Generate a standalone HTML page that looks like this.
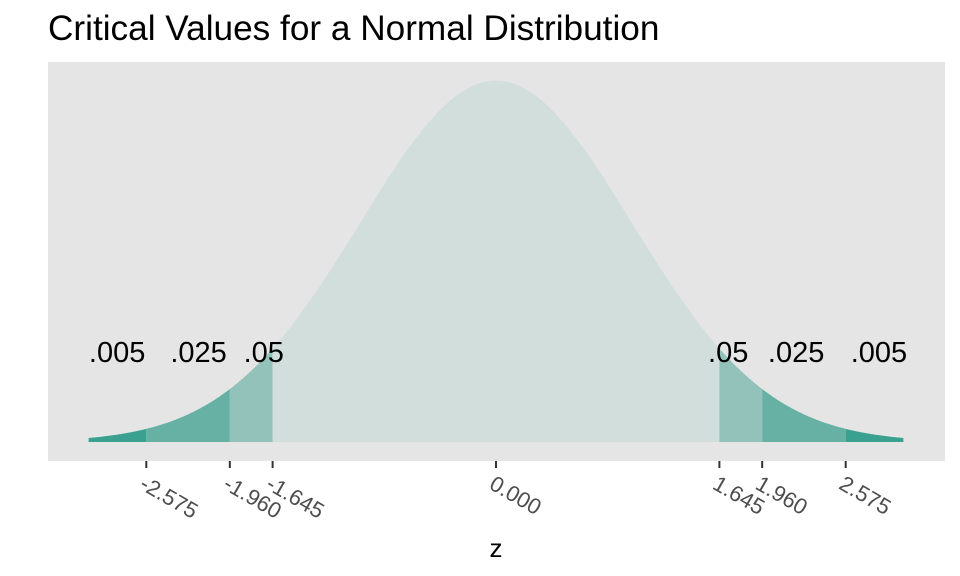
<!DOCTYPE html>
<html><head><meta charset="utf-8"><style>body{margin:0;background:#fff}svg{display:block;font-family:"Liberation Sans",Arial,sans-serif}</style></head>
<body>
<svg id="c" width="960" height="576">
<text x="48" y="40" font-size="35.2" fill="#000">Critical Values for a Normal Distribution</text>
<rect x="48" y="62" width="897" height="399" fill="#e5e5e5"/>
<g id="areas"></g><g id="labels"></g><g id="ticks"></g>
<text x="496" y="557" font-size="26" text-anchor="middle" fill="#000">z</text>
</svg>
<script>
const regionBounds = [-3, -2.575, -1.96, -1.645, 1.645, 1.96, 2.575, 3];
const regionColors = ["#3aa190","#66b1a4","#93c2bb","#d1dedc","#93c2bb","#66b1a4","#3aa190"];
const tickValues = [-2.575, -1.96, -1.645, 0, 1.645, 1.96, 2.575];
const tickLabels = ["-2.575","-1.960","-1.645","0.000","1.645","1.960","2.575"];
const probLabels = [".005",".025",".05",".05",".025",".005"];
const probLabelZ = [-2.79, -2.19, -1.71, 1.71, 2.21, 2.82];

const NS="http://www.w3.org/2000/svg";
const X=z=>496+z*135.8;
const Y=d=>442-d*906;
const pdf=z=>Math.exp(-z*z/2)/Math.sqrt(2*Math.PI);
const areas=document.getElementById('areas');
for(let i=0;i<regionBounds.length-1;i++){
  const a=regionBounds[i],b=regionBounds[i+1];
  let d=`M${X(a)},${Y(0)}`;
  const n=60;
  for(let k=0;k<=n;k++){const z=a+(b-a)*k/n;d+=` L${X(z)},${Y(pdf(z))}`;}
  d+=` L${X(b)},${Y(0)} Z`;
  const p=document.createElementNS(NS,'path');
  p.setAttribute('d',d);p.setAttribute('fill',regionColors[i]);
  
  
  areas.appendChild(p);
}
const labels=document.getElementById('labels');
probLabels.forEach((t,i)=>{
  const e=document.createElementNS(NS,'text');
  e.setAttribute('x',X(probLabelZ[i]));e.setAttribute('y',362);
  e.setAttribute('text-anchor','middle');e.setAttribute('font-size','29');
  e.textContent=t;
  
  
  labels.appendChild(e);
});
const ticks=document.getElementById('ticks');
tickValues.forEach((v,i)=>{
  const l=document.createElementNS(NS,'line');
  l.setAttribute('x1',X(v));l.setAttribute('x2',X(v));
  l.setAttribute('y1',461);l.setAttribute('y2',468);
  l.setAttribute('stroke','#333');l.setAttribute('stroke-width','2');
  
  
  ticks.appendChild(l);
  const t=document.createElementNS(NS,'text');
  const x=X(v)-8,y=488;
  t.setAttribute('x',x);t.setAttribute('y',y);
  t.setAttribute('transform',`rotate(30 ${x} ${y})`);
  t.setAttribute('font-size','22');t.setAttribute('fill','#4d4d4d');
  t.textContent=tickLabels[i];
  
  
  ticks.appendChild(t);
});
</script>
</body></html>
